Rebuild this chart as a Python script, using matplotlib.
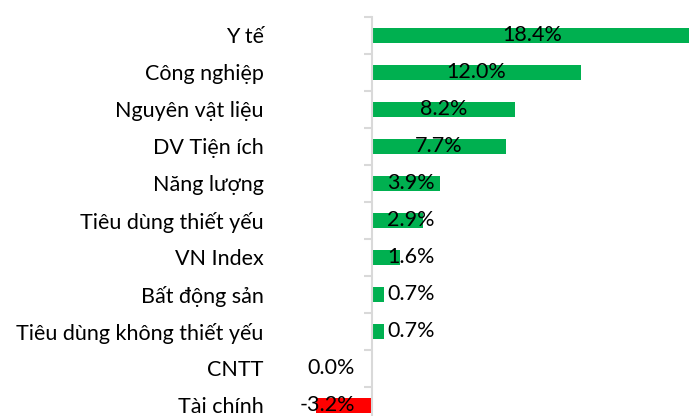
import numpy as np
import matplotlib
matplotlib.use('Agg')
import matplotlib.pyplot as plt

categories = ['Y tế', 'Công nghiệp', 'Nguyên vật liệu', 'DV Tiện ích', 'Năng lượng',
              'Tiêu dùng thiết yếu', 'VN Index', 'Bất động sản',
              'Tiêu dùng không thiết yếu', 'CNTT', 'Tài chính']
values = [18.4, 12.0, 8.2, 7.7, 3.9, 2.9, 1.6, 0.7, 0.7, 0.0, -3.2]

plt.rcParams['font.family'] = ['Lato', 'DejaVu Sans']

fig = plt.figure(figsize=(6.89, 4.16), dpi=100)
ax = fig.add_axes([0, 0, 1, 1])

y = np.arange(len(categories))
colors = ['#00B050' if v >= 0 else '#FF0000' for v in values]
ax.barh(y, values, height=0.4, color=colors, zorder=2)

# value labels: centred on bar, pushed out when the bar is short
for yi, v in zip(y, values):
    if v > 0:
        ax.text(max(v / 2, 2.22), yi, f'{v:.1f}%', ha='center', va='center',
                fontsize=15.5, color='black', zorder=3)
    else:
        ax.text(-0.98, yi, f'{v:.1f}%', ha='right', va='center',
                fontsize=15.5, color='black', zorder=3)

px = 17.44
ax.set_xlim(-372 / px, (689 - 372) / px)
ax.set_ylim(10.29, -0.951)

for s in ['top', 'right', 'bottom']:
    ax.spines[s].set_visible(False)
ax.spines['left'].set_position(('data', 0))
ax.spines['left'].set_color('#d9d9d9')
ax.spines['left'].set_linewidth(1.5)
ax.spines['left'].set_bounds(-0.5, 10.29)
ax.xaxis.set_visible(False)

ax.set_yticks(y)
ax.set_yticklabels(categories, fontsize=15.5)
ax.tick_params(axis='y', which='major', length=0, pad=78)
ax.set_yticks(np.arange(-0.5, len(categories) - 1, 1), minor=True)
ax.tick_params(axis='y', which='minor', length=6, width=1.5, color='#d9d9d9')

fig.savefig('out.png', dpi=100)
